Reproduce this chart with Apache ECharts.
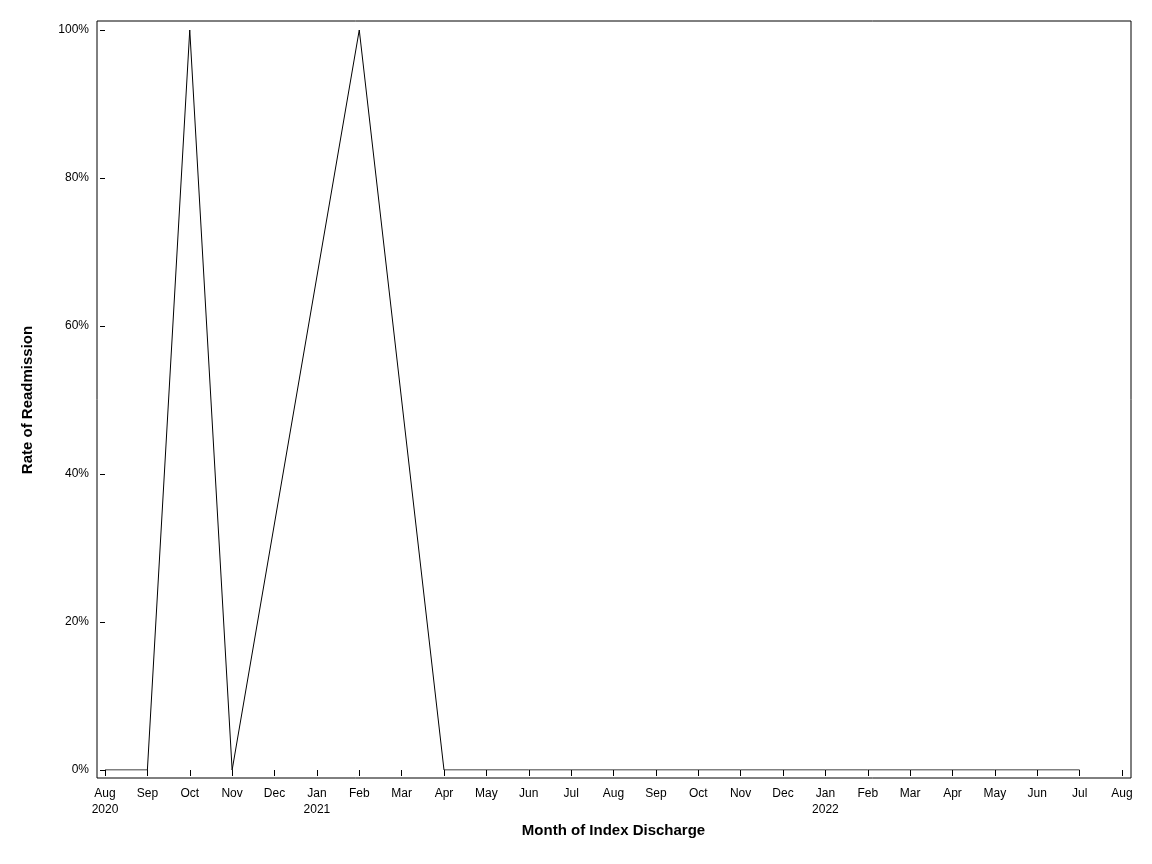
<!DOCTYPE html><html><head><meta charset="utf-8">
<script src="https://cdn.jsdelivr.net/npm/echarts@6/dist/echarts.min.js"></script>
<style>html,body{margin:0;background:#fff}#c{width:1152px;height:864px}</style></head><body><div id="c"></div>
<script>
const tickLabels=["Aug\n2020","Sep","Oct","Nov","Dec","Jan\n2021","Feb","Mar","Apr","May","Jun","Jul","Aug","Sep","Oct","Nov","Dec","Jan\n2022","Feb","Mar","Apr","May","Jun","Jul","Aug"];
const monthIdx=[0,1,2,3,6,8,10,15,16,17,18,19,21,23];
const rates=[0,0,100,0,100,0,0,0,0,0,0,0,0,0];
const pctLabels=["0.00%","0.00%","100%","0.00%","100%","0.00%","0.00%","0.00%","0.00%","0.00%","0.00%","0.00%","0.00%","0.00%"];
const chart=echarts.init(document.getElementById('c'));
const font='"Liberation Sans", Arial, sans-serif';
chart.setOption({
 animation:false,
 grid:{left:105,right:30,top:30,bottom:94},
 graphic:[{type:'rect',shape:{x:97,y:21,width:1034,height:757},style:{fill:'none',stroke:'#000',lineWidth:1},silent:true}],
 xAxis:{type:'value',min:0,max:24,interval:1,offset:8,
  name:'Month of Index Discharge',nameLocation:'middle',nameGap:42,
  nameTextStyle:{fontFamily:font,fontSize:15,fontWeight:'bold',color:'#000'},
  axisLine:{show:false},axisTick:{show:true,length:6,lineStyle:{color:'#000'}},
  splitLine:{show:false},
  axisLabel:{fontFamily:font,fontSize:12,color:'#000',lineHeight:16,formatter:v=>tickLabels[v]}},
 yAxis:{type:'value',min:0,max:100,interval:20,offset:8,
  name:'Rate of Readmission',nameLocation:'middle',nameGap:62,
  nameTextStyle:{fontFamily:font,fontSize:15,fontWeight:'bold',color:'#000'},
  axisLine:{show:false},axisTick:{show:true,length:5,lineStyle:{color:'#000'}},
  splitLine:{show:false},
  axisLabel:{fontFamily:font,fontSize:12,color:'#000',formatter:v=>v+'%'}},
 series:[{type:'line',symbol:'none',lineStyle:{color:'#000',width:1},
  data:monthIdx.map((m,i)=>({value:[m,rates[i]],label:{show:true,position:'right',distance:3,
    offset:[0,rates[i]>50?8:-8],formatter:pctLabels[i],fontFamily:font,fontSize:10,color:'#000'}}))}]
});
</script></body></html>
